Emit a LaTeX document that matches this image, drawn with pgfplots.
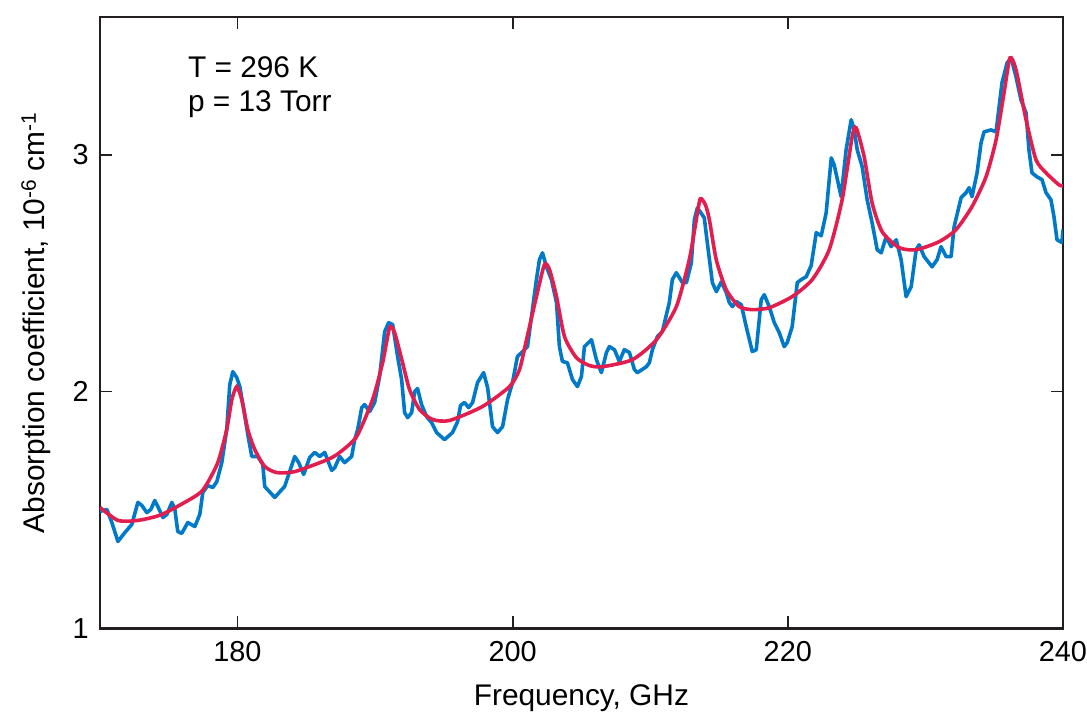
\documentclass[border=0pt]{standalone}
\usepackage{fontspec}
\setmainfont{Liberation Sans}
\usepackage{pgfplots}
\pgfplotsset{compat=1.18}
\definecolor{measblue}{RGB}{0,122,200}
\definecolor{fitred}{RGB}{226,30,78}
\definecolor{axisgray}{RGB}{35,31,32}

\begin{document}
\begin{tikzpicture}
\begin{axis}[
  width=964bp, height=612bp,
  scale only axis,
  xmin=170, xmax=240,
  ymin=1, ymax=3.582,
  xtick={180,200,220,240},
  ytick={1,2,3},
  tick align=inside,
  major tick length=12bp,
  axis line style={axisgray, line width=2.4bp},
  tick style={axisgray, line width=1.8bp},
  /pgf/number format/assume math mode=true,
  ticklabel style={font=\fontsize{29}{34}\selectfont},
  xticklabel style={anchor=north, inner sep=0pt, yshift=-13bp},
  yticklabel style={anchor=east, inner sep=0pt, xshift=-11bp},
  xlabel={Frequency, GHz},
  ylabel={Absorption coefficient, 10\textsuperscript{-6} cm\textsuperscript{-1}},
  label style={font=\fontsize{30}{36}\selectfont},
  xlabel style={at={(axis description cs:0.5,-0.1258)}, anchor=base},
  ylabel style={at={(axis description cs:-0.0571,0.5)}, anchor=base},
]

% ---- measured spectrum ----------------------------------------------
\addplot[measblue, line width=3.6bp, line join=round] coordinates {
 (170.00,1.494) (170.51,1.502) (170.87,1.447) (171.31,1.367) (171.82,1.405)
 (172.32,1.439) (172.76,1.532) (173.05,1.519) (173.41,1.489) (173.70,1.502)
 (173.99,1.540) (174.21,1.515) (174.58,1.468) (174.87,1.481) (175.23,1.532)
 (175.45,1.502) (175.66,1.409) (175.95,1.401) (176.39,1.447) (176.90,1.430)
 (177.26,1.481) (177.48,1.574) (177.84,1.603) (178.21,1.595) (178.50,1.620)
 (178.86,1.700) (179.22,1.840) (179.44,2.029) (179.66,2.084) (179.95,2.059)
 (180.17,2.021) (180.46,1.924) (180.75,1.819) (181.04,1.726) (181.47,1.726)
 (181.84,1.692) (181.98,1.599) (182.71,1.553) (183.22,1.586) (183.43,1.599)
 (184.16,1.726) (184.45,1.700) (184.81,1.650) (185.25,1.722) (185.61,1.743)
 (185.98,1.726) (186.34,1.743) (186.85,1.667) (187.07,1.679) (187.43,1.726)
 (187.79,1.700) (188.30,1.726) (188.52,1.797) (188.74,1.840) (189.03,1.932)
 (189.24,1.945) (189.61,1.916) (189.97,1.954) (190.33,2.063) (190.70,2.253)
 (190.99,2.291) (191.28,2.283) (191.64,2.148) (191.93,2.051) (192.15,1.911)
 (192.37,1.890) (192.66,1.911) (192.88,2.000) (193.09,2.013) (193.38,1.945)
 (193.75,1.894) (194.11,1.869) (194.47,1.827) (195.05,1.797) (195.63,1.827)
 (196.00,1.873) (196.21,1.941) (196.51,1.954) (196.80,1.932) (197.09,1.954)
 (197.45,2.038) (197.89,2.080) (198.18,2.017) (198.54,1.852) (198.90,1.827)
 (199.27,1.852) (199.63,1.966) (199.99,2.038) (200.35,2.148) (200.72,2.169)
 (201.08,2.190) (201.44,2.346) (201.73,2.473) (201.95,2.557) (202.17,2.586)
 (202.46,2.527) (202.82,2.473) (203.19,2.376) (203.40,2.190) (203.62,2.127)
 (203.98,2.122) (204.35,2.051) (204.71,2.021) (205.00,2.063) (205.22,2.190)
 (205.73,2.219) (206.09,2.135) (206.45,2.080) (206.82,2.165) (207.03,2.190)
 (207.40,2.177) (207.76,2.127) (208.12,2.177) (208.49,2.165) (208.85,2.093)
 (209.07,2.080) (209.72,2.105) (209.94,2.122) (210.16,2.177) (210.52,2.232)
 (210.88,2.253) (211.39,2.376) (211.61,2.473) (211.90,2.502) (212.34,2.460)
 (212.63,2.460) (212.99,2.544) (213.21,2.726) (213.43,2.776) (213.93,2.734)
 (214.15,2.629) (214.52,2.460) (214.81,2.422) (215.17,2.464) (215.53,2.418)
 (215.75,2.376) (215.97,2.359) (216.26,2.380) (216.62,2.367) (216.98,2.274)
 (217.42,2.169) (217.71,2.177) (218.07,2.388) (218.29,2.409) (218.65,2.359)
 (219.02,2.291) (219.38,2.249) (219.74,2.190) (219.96,2.207) (220.32,2.274)
 (220.69,2.460) (220.98,2.473) (221.34,2.485) (221.70,2.532) (222.07,2.671)
 (222.43,2.658) (222.79,2.755) (223.16,2.987) (223.37,2.958) (223.88,2.823)
 (224.24,3.021) (224.61,3.148) (224.83,3.105) (225.05,3.021) (225.41,2.949)
 (225.77,2.810) (226.13,2.713) (226.50,2.599) (226.79,2.586) (227.15,2.654)
 (227.51,2.612) (227.88,2.641) (228.24,2.557) (228.60,2.401) (228.97,2.443)
 (229.33,2.599) (229.55,2.620) (229.91,2.570) (230.49,2.527) (230.85,2.557)
 (231.14,2.612) (231.51,2.570) (231.87,2.570) (232.09,2.696) (232.60,2.819)
 (232.96,2.840) (233.18,2.861) (233.39,2.823) (233.76,2.924) (234.05,3.051)
 (234.27,3.097) (234.77,3.105) (235.14,3.097) (235.57,3.304) (235.94,3.388)
 (236.23,3.409) (236.59,3.329) (236.95,3.232) (237.32,3.177) (237.53,3.021)
 (237.75,2.924) (238.11,2.907) (238.48,2.895) (238.77,2.840) (239.13,2.810)
 (239.35,2.738) (239.57,2.641) (239.93,2.629) (240.00,2.684)
};

% ---- fitted model ---------------------------------------------------
\addplot[fitred, line width=3.6bp, smooth, tension=0.4] coordinates {
 (170.00,1.511) (171.31,1.456) (172.76,1.456) (174.50,1.481) (176.90,1.557)
 (177.62,1.595) (178.57,1.700) (179.22,1.840) (179.59,1.966) (179.95,2.021)
 (180.31,1.966) (180.75,1.840) (181.26,1.755) (181.98,1.684) (182.85,1.658)
 (184.16,1.662) (186.56,1.713) (187.43,1.743) (188.66,1.810) (189.82,1.966)
 (190.55,2.122) (191.06,2.270) (191.42,2.249) (192.00,2.122) (192.51,2.008)
 (193.24,1.924) (194.18,1.882) (195.42,1.878) (197.81,1.937) (199.77,2.021)
 (200.50,2.093) (201.01,2.219) (201.73,2.401) (202.31,2.536) (202.68,2.515)
 (203.19,2.401) (203.77,2.232) (204.64,2.143) (205.58,2.110) (206.53,2.105)
 (208.71,2.135) (210.45,2.219) (211.90,2.359) (212.84,2.557) (213.35,2.726)
 (213.64,2.814) (214.01,2.789) (214.30,2.726) (214.80,2.557) (215.53,2.430)
 (216.47,2.359) (217.42,2.346) (218.65,2.354) (220.32,2.401) (221.78,2.473)
 (223.01,2.599) (223.95,2.810) (224.68,3.076) (224.97,3.114) (225.55,2.992)
 (226.13,2.797) (226.86,2.675) (228.09,2.608) (229.33,2.599) (231.00,2.633)
 (232.23,2.684) (233.39,2.781) (234.41,2.907) (235.14,3.063) (235.72,3.262)
 (236.15,3.409) (236.59,3.359) (237.32,3.148) (238.04,2.979) (238.77,2.924)
 (239.71,2.873) (240.00,2.869)
};

\node[anchor=base west, inner sep=0pt, font=\fontsize{30}{36}\selectfont]
  at (axis cs:176.39,3.325) {T = 296 K};
\node[anchor=base west, inner sep=0pt, font=\fontsize{30}{36}\selectfont]
  at (axis cs:176.39,3.181) {p = 13 Torr};
\end{axis}
\path ([xshift=-100bp,yshift=-84bp]current axis.south west)
  rectangle ([xshift=23bp,yshift=17bp]current axis.north east);
\end{tikzpicture}
\end{document}
